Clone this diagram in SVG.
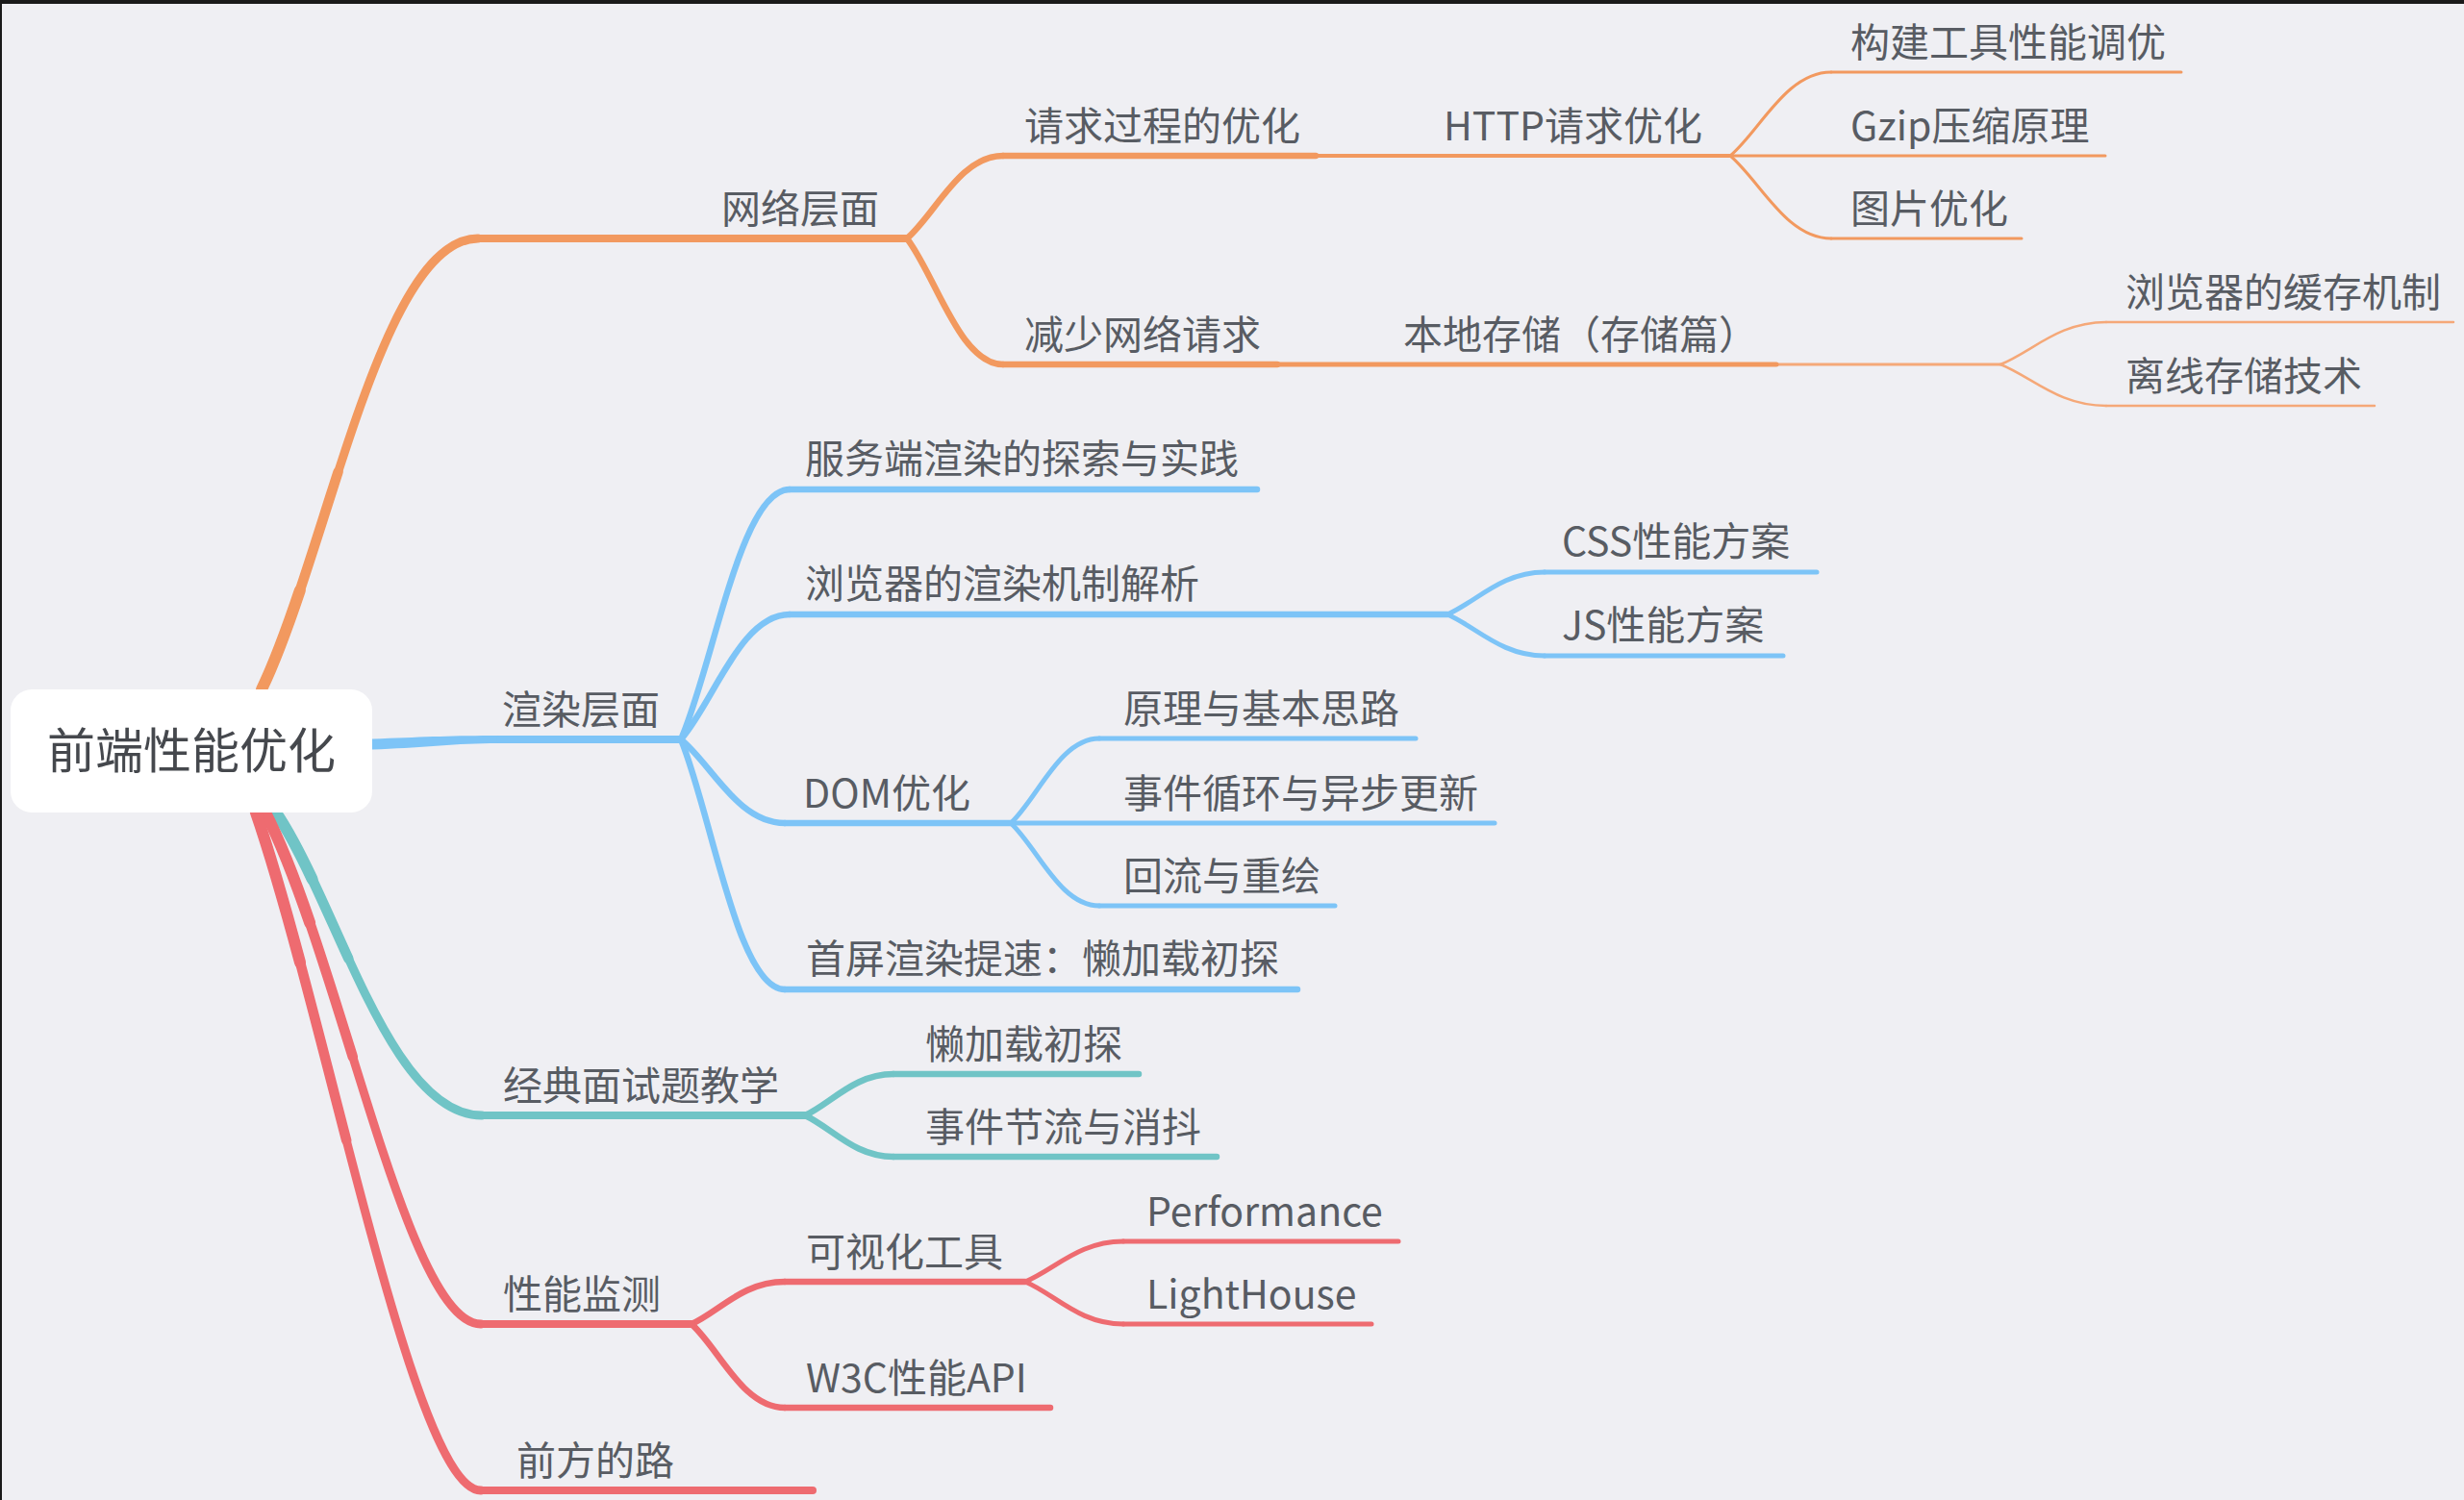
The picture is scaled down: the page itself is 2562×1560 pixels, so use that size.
<svg xmlns="http://www.w3.org/2000/svg" width="2562" height="1560" viewBox="0 0 2562 1560">
<style>
.t{font-family:"Noto Sans CJK SC","Noto Sans",sans-serif;font-size:41px;fill:#585c63}
.root{font-family:"Noto Sans CJK SC","Noto Sans",sans-serif;font-size:50px;fill:#45484d}
.c{fill:none;stroke-linecap:round}
.o{stroke:#f2995f}.ol{stroke:#f5a878}
.b{stroke:#7dc4f7}.g{stroke:#70c4c6}.r{stroke:#ee6b70}
.w12{stroke-width:12}.w10{stroke-width:10.5}.w9{stroke-width:9}.w8{stroke-width:8}.w6{stroke-width:6.5}.w5{stroke-width:5}.w4{stroke-width:4}.w3{stroke-width:3}
</style>
<rect width="2562" height="1560" fill="#efeff3"/>
<rect width="2562" height="4" fill="#1a1a1a"/>
<rect width="2" height="1560" fill="#1a1a1a"/>
<g id="connectors">
<path class="c o w9" d="M272,717 C340,576 396,248 497,248"/>
<path class="c o w10" d="M272,717 C299.2,660.6 324.5,574.3 351.5,491"/>
<path class="c o w12" d="M272,717 C285.6,688.8 298.7,653.1 311.8,614.1"/>
<path fill="#7dc4f7" d="M387,768.5 C440,766.5 470,765 521,765 L521,773 C470,773 440,778 387,779.5 Z"/>
<path class="c g w9" d="M287,845 C351,940 405,1160 501,1160"/>
<path class="c g w10" d="M287,845 C312.6,883 336.6,941 362.3,996.9"/>
<path class="c g w12" d="M287,845 C299.8,864 312.2,888 324.6,914.2"/>
<path class="c r w9" d="M276,845 C355,1000 423,1377 500,1377"/>
<path class="c r w10" d="M276,845 C307.6,907 337.4,1004.5 366.8,1099.2"/>
<path class="c r w12" d="M276,845 C291.8,876 307.2,915.9 322.2,959.9"/>
<path class="c r w9" d="M266,845 C340,1060 430,1550 500,1550"/>
<path class="c r w10" d="M266,845 C295.6,931 327.8,1061 360.2,1186"/>
<path class="c r w12" d="M266,845 C280.8,888 296.2,942 312,1000.9"/>
<path class="c o w6" d="M943,248 C973,222 998,162 1043,162"/>
<path class="c o w6" d="M943,248 C973,287 998,379 1043,379"/>
<path class="c o w3" d="M1799,162 C1830,136 1857,75 1904,75"/>
<path class="c o w3" d="M1799,162 C1830,188 1857,248 1904,248"/>
<path class="c ol w3" d="M1847,379 L2080,379"/>
<path class="c ol" stroke-width="2.5" d="M2080,379 C2113,366 2140,335 2190,335"/>
<path class="c ol" stroke-width="2.5" d="M2080,379 C2113,392 2140,422 2190,422"/>
<path class="c b w6" d="M708,769 C742,691 770,509 821,509"/>
<path class="c b w6" d="M708,769 C742,730 770,639 821,639"/>
<path class="c b w6" d="M708,769 C740,795 767,856 816,856"/>
<path class="c b w6" d="M708,769 C740,847 767,1029 816,1029"/>
<path class="c b w5" d="M1505,639 C1535,626 1561,595 1606,595"/>
<path class="c b w5" d="M1505,639 C1535,652 1561,682 1606,682"/>
<path class="c b w5" d="M1051,856 C1079,830 1102,768 1143,768"/>
<path class="c b w5" d="M1051,856 C1079,882 1102,942 1143,942"/>
<path class="c g w6" d="M837,1160 C865,1147 888,1117 929,1117"/>
<path class="c g w6" d="M837,1160 C865,1173 888,1203 929,1203"/>
<path class="c r w6" d="M719,1377 C748,1364 772,1333 816,1333"/>
<path class="c r w6" d="M719,1377 C748,1403 772,1464 816,1464"/>
<path class="c r w5" d="M1066,1333 C1097,1320 1122,1291 1168,1291"/>
<path class="c r w5" d="M1066,1333 C1097,1346 1122,1377 1168,1377"/>
</g>
<g id="n-root"><rect x="11" y="717" width="376" height="128" rx="22" fill="#ffffff"/><text class="root" x="49" y="799">前端性能优化</text></g>
<g id="n-wangluo"><path class="c o w8" d="M497,248 L943,248"/><text class="t" x="750" y="232">网络层面</text></g>
<g id="n-qingqiu"><path class="c o w6" d="M1043,162 L1368,162"/><text class="t" x="1065" y="146">请求过程的优化</text></g>
<g id="n-http"><path class="c o w4" d="M1368,162 L1799,162"/><text class="t" x="1501" y="146">HTTP请求优化</text></g>
<g id="n-goujian"><path class="c o w3" d="M1904,75 L2268,75"/><text class="t" x="1924" y="59">构建工具性能调优</text></g>
<g id="n-gzip"><path class="c o w3" d="M1799,162 L2189,162"/><text class="t" x="1924" y="146">Gzip压缩原理</text></g>
<g id="n-tupian"><path class="c o w3" d="M1904,248 L2102,248"/><text class="t" x="1924" y="232">图片优化</text></g>
<g id="n-jianshao"><path class="c o w6" d="M1043,379 L1328,379"/><text class="t" x="1065" y="363">减少网络请求</text></g>
<g id="n-bendi"><path class="c o w5" d="M1328,379 L1847,379"/><text class="t" x="1459" y="363">本地存储（存储篇）</text></g>
<g id="n-huancun"><path class="c ol" stroke-width="2.5" d="M2190,335 L2551,335"/><text class="t" x="2210" y="319">浏览器的缓存机制</text></g>
<g id="n-lixian"><path class="c ol" stroke-width="2.5" d="M2190,422 L2469,422"/><text class="t" x="2210" y="406">离线存储技术</text></g>
<g id="n-xuanran"><path class="c b w8" d="M520,769 L708,769"/><text class="t" x="522" y="753">渲染层面</text></g>
<g id="n-fuwuduan"><path class="c b w6" d="M821,509 L1307,509"/><text class="t" x="837" y="492">服务端渲染的探索与实践</text></g>
<g id="n-liulanqi"><path class="c b w6" d="M821,639 L1505,639"/><text class="t" x="837" y="622">浏览器的渲染机制解析</text></g>
<g id="n-css"><path class="c b w5" d="M1606,595 L1889,595"/><text class="t" x="1624" y="578">CSS性能方案</text></g>
<g id="n-js"><path class="c b w5" d="M1606,682 L1854,682"/><text class="t" x="1624" y="665">JS性能方案</text></g>
<g id="n-dom"><path class="c b w6" d="M816,856 L1051,856"/><text class="t" x="835" y="840">DOM优化</text></g>
<g id="n-yuanli"><path class="c b w5" d="M1143,768 L1472,768"/><text class="t" x="1168" y="752">原理与基本思路</text></g>
<g id="n-shijian"><path class="c b w5" d="M1051,856 L1554,856"/><text class="t" x="1168" y="840">事件循环与异步更新</text></g>
<g id="n-huiliu"><path class="c b w5" d="M1143,942 L1388,942"/><text class="t" x="1168" y="926">回流与重绘</text></g>
<g id="n-shouping"><path class="c b w6" d="M816,1029 L1349,1029"/><text class="t" x="838" y="1012">首屏渲染提速：懒加载初探</text></g>
<g id="n-jingdian"><path class="c g w8" d="M501,1160 L837,1160"/><text class="t" x="523" y="1144">经典面试题教学</text></g>
<g id="n-lanjiazai"><path class="c g w6" d="M929,1117 L1184,1117"/><text class="t" x="962" y="1101">懒加载初探</text></g>
<g id="n-jieliu"><path class="c g w6" d="M929,1203 L1265,1203"/><text class="t" x="962" y="1187">事件节流与消抖</text></g>
<g id="n-jiance"><path class="c r w8" d="M500,1377 L719,1377"/><text class="t" x="523" y="1361">性能监测</text></g>
<g id="n-keshihua"><path class="c r w6" d="M816,1333 L1066,1333"/><text class="t" x="838" y="1317">可视化工具</text></g>
<g id="n-performance"><path class="c r w5" d="M1168,1291 L1454,1291"/><text class="t" x="1192" y="1275">Performance</text></g>
<g id="n-lighthouse"><path class="c r w5" d="M1168,1377 L1426,1377"/><text class="t" x="1192" y="1361">LightHouse</text></g>
<g id="n-w3c"><path class="c r w6" d="M816,1464 L1092,1464"/><text class="t" x="838" y="1448">W3C性能API</text></g>
<g id="n-qianfang"><path class="c r w8" d="M500,1550 L845,1550"/><text class="t" x="537" y="1534">前方的路</text></g>
</svg>
